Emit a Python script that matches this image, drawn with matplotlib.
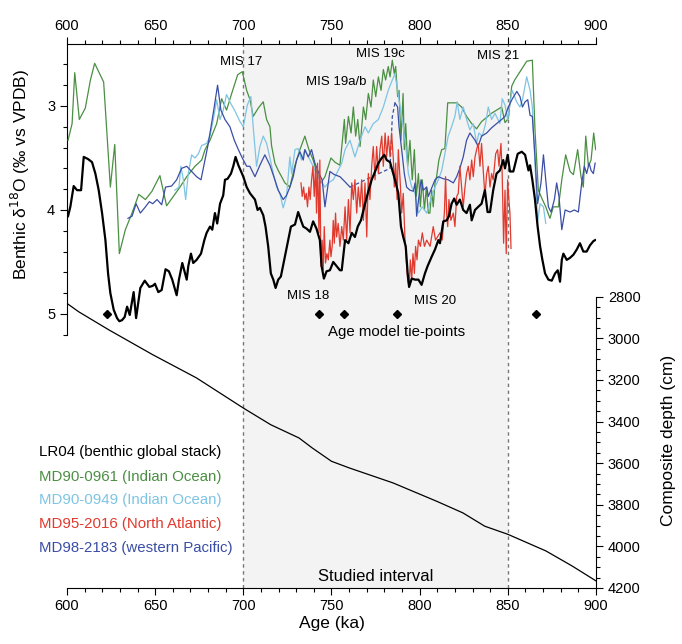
import numpy as np
import matplotlib.pyplot as plt
from matplotlib.ticker import FixedLocator

plt.rcParams['font.family'] = ['Liberation Sans', 'DejaVu Sans']

# LR04 benthic stack (age ka, d18O permil)
lr04_age = [600.6, 601.9, 603.8, 605.7, 608.0, 609.5, 611.9, 614.2, 616.1, 618.0, 619.9, 621.8, 623.3, 624.6,
            626.5, 628.4, 629.7, 631.2, 632.7, 634.1, 635.6, 637.8, 639.2, 641.6, 644.1, 646.7, 648.6, 649.9,
            651.8, 653.7, 655.9, 657.8, 659.7, 662.2, 663.5, 665.4, 666.5, 667.9, 668.8, 670.3, 671.6, 673.5,
            676.0, 677.9, 679.2, 681.1, 682.4, 683.9, 685.2, 686.8, 688.6, 689.6, 691.1, 693.0, 694.3, 695.6,
            697.2, 698.7, 700.0, 701.9, 703.8, 706.6, 708.1, 709.4, 711.3, 712.6, 714.1, 715.6, 717.0, 718.3,
            719.8, 721.3, 723.2, 725.1, 727.0, 729.3, 731.1, 732.7, 734.0, 735.9, 737.8, 739.6, 741.5, 743.4,
            744.4, 745.7, 747.2, 749.1, 751.0, 752.9, 754.8, 755.8, 757.7, 759.6, 761.5, 763.3, 764.9, 766.7,
            768.6, 770.9, 772.8, 774.7, 776.6, 778.5, 780.0, 781.3, 783.2, 784.5, 786.0, 787.9, 789.4, 790.7,
            792.1, 793.2, 794.0, 795.5, 797.4, 799.3, 801.1, 803.0, 804.5, 806.8, 808.7, 810.6, 811.5, 812.5,
            813.4, 815.3, 816.6, 818.1, 819.6, 821.0, 822.8, 824.7, 826.6, 828.5, 829.5, 831.4, 833.2, 835.1,
            837.0, 838.5, 839.9, 841.7, 843.6, 845.5, 847.4, 848.4, 849.9, 851.2, 853.1, 855.6, 857.9, 859.8,
            861.7, 862.6, 863.9, 865.4, 866.9, 868.3, 869.6, 871.1, 873.0, 874.9, 876.8, 878.3, 879.6, 880.6,
            881.5, 883.4, 885.3, 887.2, 889.1, 890.9, 892.8, 894.7, 896.6, 898.5, 899.5]
lr04_d18o = [4.06, 3.97, 3.77, 3.81, 3.81, 3.49, 3.51, 3.54, 3.65, 3.81, 4.03, 4.29, 4.61, 4.80,
             4.96, 5.04, 5.07, 5.06, 5.03, 4.93, 5.01, 4.79, 5.04, 4.75, 4.68, 4.74, 4.73, 4.71,
             4.79, 4.77, 4.57, 4.59, 4.67, 4.82, 4.67, 4.51, 4.58, 4.67, 4.54, 4.42, 4.51, 4.48,
             4.42, 4.29, 4.22, 4.16, 4.19, 4.03, 4.13, 3.94, 3.86, 3.71, 3.70, 3.65, 3.58, 3.49,
             3.57, 3.63, 3.68, 3.78, 3.84, 3.90, 4.00, 3.98, 4.05, 4.16, 4.35, 4.61, 4.67, 4.75,
             4.67, 4.64, 4.48, 4.32, 4.16, 4.14, 4.02, 4.10, 4.16, 4.18, 4.21, 4.11, 4.18, 4.29,
             4.54, 4.66, 4.59, 4.58, 4.50, 4.54, 4.58, 4.58, 4.29, 4.32, 4.22, 4.26, 4.16, 4.10,
             3.97, 3.82, 3.71, 3.63, 3.55, 3.50, 3.47, 3.52, 3.54, 3.62, 3.71, 3.84, 4.16, 4.26,
             4.35, 4.61, 4.74, 4.66, 4.67, 4.67, 4.72, 4.61, 4.54, 4.45, 4.38, 4.29, 4.32, 4.21,
             4.11, 4.10, 4.06, 3.94, 3.89, 3.95, 3.90, 4.00, 4.03, 3.95, 4.10, 4.00, 3.97, 3.94,
             3.81, 4.02, 4.02, 3.81, 3.65, 3.62, 3.52, 3.60, 3.47, 3.63, 3.63, 3.46, 3.44, 3.47,
             3.62, 3.57, 3.71, 3.90, 4.16, 4.35, 4.48, 4.61, 4.67, 4.68, 4.61, 4.58, 4.69, 4.48,
             4.42, 4.48, 4.46, 4.43, 4.38, 4.32, 4.40, 4.40, 4.34, 4.30, 4.29]

# MD90-0961 (Indian Ocean)
md0961_age = [600.6, 602.9, 604.4, 607.0, 610.4, 613.3, 615.7, 620.8, 624.6, 627.1, 629.7, 633.1, 636.9, 640.7,
              644.5, 648.2, 652.7, 656.5, 660.3, 664.1, 667.9, 672.6, 676.4, 678.3, 681.1, 684.9, 687.7, 690.5,
              693.4, 696.8, 699.4, 701.9, 703.8, 705.6, 708.5, 711.3, 713.2, 715.1, 716.0, 717.9, 719.8, 721.7,
              723.6, 726.4, 729.3, 732.1, 734.9, 737.2, 739.6, 741.5, 744.0, 746.3, 749.7, 751.9, 754.8, 756.2,
              757.3, 758.0, 759.6, 761.1, 762.4, 763.7, 764.9, 766.2, 768.1, 769.4, 770.9, 772.4, 773.7, 775.1,
              776.6, 778.1, 779.4, 780.7, 782.2, 783.2, 784.5, 785.6, 786.4, 787.5, 788.3, 789.4, 790.6, 791.3,
              792.1, 793.2, 794.5, 795.8, 797.0, 798.1, 799.3, 800.4, 801.5, 802.7, 803.8, 804.9, 805.8, 806.8,
              807.7, 808.7, 809.6, 810.9, 812.5, 814.3, 815.9, 818.1, 821.0, 823.8, 826.6, 829.5, 832.3, 835.1,
              838.0, 840.8, 843.6, 846.5, 848.4, 850.3, 852.2, 853.9, 856.9, 860.7, 863.9, 865.4, 867.3, 869.6,
              871.5, 873.9, 875.8, 878.7, 880.6, 882.8, 885.3, 887.2, 889.6, 891.5, 892.8, 894.2, 895.7, 897.2,
              898.7, 899.8]
md0961_d18o = [3.33, 3.17, 2.68, 3.13, 3.02, 2.75, 2.59, 2.77, 3.78, 3.37, 4.42, 4.19, 4.03, 3.85,
               3.90, 3.82, 3.67, 3.96, 3.87, 3.78, 3.68, 3.58, 3.52, 3.42, 3.33, 3.17, 2.93, 3.04,
               2.88, 2.70, 2.67, 2.85, 2.94, 3.10, 3.02, 2.96, 3.13, 3.20, 3.38, 3.55, 3.62, 3.68,
               3.74, 3.78, 3.57, 3.42, 3.29, 3.42, 3.52, 3.63, 3.74, 3.68, 3.50, 3.54, 3.57, 3.33,
               3.13, 3.36, 3.10, 3.26, 3.01, 3.29, 3.13, 3.39, 3.01, 3.13, 2.88, 3.01, 2.75, 2.91,
               2.72, 2.85, 2.65, 2.75, 2.62, 2.72, 2.56, 2.69, 2.62, 2.91, 2.85, 3.33, 2.88, 3.42,
               3.17, 3.58, 3.33, 3.71, 3.42, 3.87, 3.65, 3.97, 3.71, 4.00, 3.78, 4.03, 4.03, 3.81,
               3.97, 3.74, 3.68, 3.52, 3.42, 3.41, 2.97, 2.97, 2.97, 3.01, 3.10, 3.17, 3.22, 3.15,
               3.11, 3.07, 3.04, 3.01, 3.16, 3.12, 2.81, 2.75, 2.67, 2.57, 2.56, 3.23, 3.81, 3.90,
               3.97, 4.08, 3.97, 3.97, 3.71, 3.47, 3.63, 3.66, 3.42, 3.68, 3.78, 3.29, 3.58, 3.52,
               3.26, 3.42]

# MD90-0949 (Indian Ocean)
md0949_age = [661.2, 663.5, 664.6, 666.0, 667.3, 668.8, 670.7, 672.6, 674.5, 676.4, 679.2, 681.1, 683.0, 684.9,
              686.8, 688.6, 690.5, 692.4, 695.3, 698.1, 700.0, 702.3, 704.3, 705.6, 707.5, 709.4, 711.3, 713.2,
              715.1, 717.0, 718.9, 720.7, 722.6, 724.5, 726.4, 727.4, 729.3, 731.1, 733.0, 734.9, 736.4, 737.8,
              739.6, 741.5, 743.4, 746.3, 748.2, 751.0, 752.9, 755.8, 757.7, 760.5, 763.3, 766.2, 769.0, 770.9,
              773.7, 776.6, 779.4, 782.2, 784.5, 786.0, 787.5, 788.9, 790.7, 792.1, 793.6, 795.5, 797.4, 799.3,
              801.5, 804.0, 806.8, 808.7, 810.6, 812.5, 814.3, 816.2, 818.1, 820.0, 821.3, 822.8, 824.7, 826.6,
              828.5, 830.4, 832.3, 833.6, 835.5, 837.4, 838.9, 840.8, 842.7, 845.5, 846.8, 848.4, 849.9, 851.2,
              852.5, 855.0, 856.9, 858.3, 860.7, 862.6, 863.9, 865.4, 866.9, 868.3, 870.2, 871.5]
md0949_d18o = [3.81, 3.78, 3.58, 3.71, 3.90, 3.65, 3.47, 3.50, 3.46, 3.38, 3.36, 3.29, 3.13, 2.94,
               3.13, 3.04, 2.89, 2.96, 3.05, 3.15, 3.20, 2.99, 2.91, 3.20, 3.58, 3.39, 3.29, 3.36,
               3.50, 3.65, 3.78, 3.84, 3.98, 3.87, 3.49, 3.65, 3.42, 3.41, 3.52, 3.42, 3.47, 3.52,
               3.58, 3.65, 3.71, 3.78, 3.74, 3.71, 3.65, 3.55, 3.42, 3.33, 3.49, 3.33, 3.20, 3.26,
               3.17, 3.13, 3.01, 2.85, 2.75, 2.69, 2.85, 3.01, 3.20, 3.39, 3.65, 3.78, 3.84, 4.03,
               3.97, 4.03, 3.87, 3.78, 3.71, 3.62, 3.46, 3.29, 3.20, 3.10, 2.96, 3.13, 3.01, 3.13,
               3.23, 3.17, 3.36, 3.26, 3.29, 3.17, 3.01, 3.13, 3.07, 3.17, 2.93, 2.99, 3.13, 2.97,
               2.85, 2.96, 3.01, 2.94, 2.72, 2.85, 3.01, 3.55, 4.11, 3.94, 3.97, 4.13]

# MD95-2016 (North Atlantic)
md2016_age = [732.7, 733.4, 734.2, 734.9, 735.7, 736.4, 737.2, 737.9, 738.7, 739.5, 740.2, 741.0, 741.5, 742.1,
              742.9, 743.4, 744.0, 744.7, 745.3, 745.9, 746.6, 747.4, 748.2, 749.1, 749.7, 750.4, 751.0, 751.6,
              752.3, 752.9, 753.8, 754.8, 755.8, 756.7, 757.7, 758.6, 759.6, 760.5, 761.5, 762.4, 763.3, 764.3,
              765.2, 766.2, 767.1, 768.1, 769.0, 770.0, 770.9, 771.8, 772.8, 773.7, 774.7, 775.6, 776.6, 777.5,
              778.5, 779.4, 780.4, 781.3, 782.2, 783.2, 784.1, 785.1, 785.6, 786.4, 787.2, 787.9, 788.9, 789.8,
              790.7, 791.7, 792.4, 793.2, 794.0, 794.7, 795.5, 796.2, 797.0, 797.7, 798.5, 799.3, 800.4, 801.5,
              802.7, 804.0, 805.9, 807.7, 809.0, 811.5, 812.8, 814.0, 814.7, 815.3, 815.9, 816.6, 817.7, 819.1,
              820.0, 821.0, 821.9, 822.8, 823.8, 824.7, 825.7, 826.6, 827.6, 828.5, 829.5, 830.4, 831.4, 832.3,
              833.2, 834.2, 835.1, 836.1, 837.0, 838.0, 838.9, 839.9, 840.8, 841.7, 843.1, 844.2, 845.0, 846.1,
              846.8, 847.6, 848.4, 849.1, 849.9, 850.6, 851.2, 851.8]
md2016_d18o = [3.74, 3.87, 3.78, 3.90, 3.84, 3.97, 3.78, 3.90, 3.71, 3.58, 3.87, 3.58, 4.03, 3.55,
               4.22, 3.52, 4.54, 4.29, 4.58, 4.16, 4.51, 4.42, 4.48, 4.29, 4.45, 4.35, 4.10, 4.32,
               4.03, 4.26, 4.13, 4.35, 4.16, 4.29, 3.97, 4.29, 3.90, 4.22, 3.74, 3.90, 3.71, 4.03,
               3.78, 3.97, 3.71, 4.10, 3.74, 4.26, 3.65, 3.90, 3.58, 3.39, 3.71, 3.39, 3.65, 3.42,
               3.29, 3.58, 3.26, 3.49, 3.29, 3.49, 3.26, 3.52, 3.78, 3.55, 3.90, 3.42, 3.71, 4.03,
               3.84, 4.29, 4.48, 4.67, 4.74, 4.48, 4.67, 4.42, 4.61, 4.35, 4.48, 4.29, 4.35, 4.22,
               4.35, 4.29, 4.35, 4.16, 4.29, 4.22, 4.29, 4.03, 3.68, 4.03, 4.16, 3.90, 4.10, 4.03,
               4.16, 3.87, 3.84, 3.58, 3.78, 3.97, 3.78, 3.65, 3.58, 3.71, 3.52, 3.68, 3.49, 3.42,
               3.36, 3.58, 3.36, 3.62, 3.87, 3.65, 3.58, 3.78, 3.65, 3.71, 3.46, 3.42, 3.58, 3.36,
               3.65, 4.32, 3.81, 4.42, 3.71, 3.90, 4.03, 4.37]

# MD98-2183 (western Pacific); gap between gap_start and gap_end is bridged with a dashed line
md2183_age = [634.6, 636.9, 639.2, 641.6, 644.5, 646.7, 648.6, 651.1, 653.7, 655.9, 659.3, 662.2, 665.0, 667.9,
              670.7, 673.5, 676.0, 677.9, 679.8, 681.7, 683.5, 685.4, 687.3, 689.6, 692.4, 694.9, 697.2, 699.4,
              701.9, 703.7, 706.6, 709.4, 712.2, 715.1, 717.9, 719.8, 722.6, 724.5, 726.4, 728.3, 730.2, 732.1,
              734.0, 734.9, 736.8, 738.7, 740.6, 742.9, 744.7, 746.3, 749.1, 751.6, 754.8, 757.7, 760.5, 783.2,
              784.5, 786.0, 787.5, 788.3, 789.8, 791.3, 792.6, 794.5, 796.4, 797.4, 798.3, 799.6, 800.8, 802.1,
              804.0, 804.9, 806.8, 808.7, 810.6, 813.4, 816.2, 819.1, 821.0, 822.8, 824.7, 826.6, 828.5, 831.4,
              833.2, 835.1, 838.0, 840.8, 843.6, 846.5, 848.4, 850.3, 852.6, 855.1, 856.9, 858.3, 859.8, 861.3,
              862.6, 863.9, 865.4, 866.9, 868.8, 870.2, 871.5, 873.0, 874.5, 876.4, 877.7, 879.0, 880.6, 882.5,
              885.3, 887.7, 890.0, 891.9, 893.4, 894.7, 896.1, 897.2, 898.5, 899.5]
md2183_d18o = [4.08, 4.06, 3.94, 4.03, 3.97, 3.92, 3.94, 3.90, 3.95, 3.78, 3.77, 3.71, 3.60, 3.58,
               3.63, 3.68, 3.71, 3.55, 3.39, 3.20, 3.01, 2.80, 3.04, 3.13, 3.20, 3.33, 3.42, 3.50,
               3.58, 3.58, 3.68, 3.57, 3.47, 3.57, 3.71, 3.81, 3.90, 3.86, 3.78, 3.68, 3.52, 3.44,
               3.52, 3.42, 3.49, 3.42, 3.55, 3.65, 3.71, 3.97, 3.63, 3.66, 3.68, 3.73, 3.78, 3.60,
               3.10, 2.97, 3.01, 3.20, 3.42, 3.65, 3.78, 3.81, 3.82, 3.74, 4.06, 3.87, 3.71, 3.81,
               3.78, 3.87, 3.79, 3.71, 3.68, 3.70, 3.71, 3.74, 3.68, 3.60, 3.49, 3.33, 3.26, 3.33,
               3.39, 3.29, 3.26, 3.21, 3.17, 3.13, 3.10, 3.01, 2.93, 2.86, 2.91, 3.01, 2.96, 2.94,
               3.09, 3.10, 3.49, 3.94, 3.74, 3.47, 3.71, 3.97, 4.02, 3.90, 3.74, 3.87, 4.19, 4.00,
               4.02, 4.00, 4.02, 3.74, 3.58, 3.65, 3.55, 3.62, 3.65, 3.55]
gap_start = 760.5
gap_end = 786.0

# age model: composite depth (cm) vs age
depth_age = [600.0, 606.6, 623.9, 648.7, 673.4, 700.0, 715.5, 731.6, 739.1, 750.0, 760.1, 784.9,
             809.6, 824.5, 836.9, 850.0, 871.6, 886.4, 900.0]
depth_cm = [2832, 2872, 2960, 3079, 3190, 3335, 3415, 3479, 3527, 3591, 3623, 3695,
            3783, 3839, 3903, 3942, 4022, 4094, 4166]

tie_ages = [622.7, 743.0, 757.0, 787.3, 866.0]
tie_level = 5.0

mis_labels = ['MIS 17', 'MIS 19a/b', 'MIS 19c', 'MIS 21', 'MIS 18', 'MIS 20']
mis_x = [698.6, 752.6, 777.5, 844.4, 736.7, 808.7]
mis_y = [2.58, 2.77, 2.50, 2.52, 4.83, 4.88]

legend_labels = ['LR04 (benthic global stack)', 'MD90-0961 (Indian Ocean)', 'MD90-0949 (Indian Ocean)',
                 'MD95-2016 (North Atlantic)', 'MD98-2183 (western Pacific)']

c_lr04 = 'black'
c_green = '#4a8f42'
c_lblue = '#7ec4e4'
c_red = '#e03a2e'
c_blue = '#3a4ea6'
legend_colors = [c_lr04, c_green, c_lblue, c_red, c_blue]

fig = plt.figure(figsize=(6.82, 6.44), dpi=100)
ax = fig.add_axes([0.0982, 0.0870, 0.7757, 0.8447])
ax.set_xlim(600, 900)
ax.set_ylim(7.635, 2.404)

# studied interval
ax.axvspan(700, 850, color='#f3f3f3', zorder=0, lw=0)
for xv in [700, 850]:
    ax.axvline(xv, color='#777777', lw=1.0, ls=(0, (2.5, 2.5)), zorder=1)

ax.plot(md0961_age, md0961_d18o, color=c_green, lw=0.9, zorder=3)
ax.plot(md0949_age, md0949_d18o, color=c_lblue, lw=0.9, zorder=3)
b_age = np.array(md2183_age)
b_val = np.array(md2183_d18o)
pre = b_age <= gap_start
post = b_age >= gap_end
mid = (b_age >= gap_start) & (b_age <= gap_end)
ax.plot(b_age[pre], b_val[pre], color=c_blue, lw=0.9, zorder=3)
ax.plot(b_age[post], b_val[post], color=c_blue, lw=0.9, zorder=3)
ax.plot(b_age[mid], b_val[mid], color=c_blue, lw=0.9, ls=(0, (3, 2)), zorder=3)
ax.plot(md2016_age, md2016_d18o, color=c_red, lw=0.9, zorder=3)
ax.plot(lr04_age, lr04_d18o, color=c_lr04, lw=1.6, zorder=4)

ax.plot(tie_ages, [tie_level] * len(tie_ages), 'D', color='black', ms=4.5, zorder=5)

for lab, x, y in zip(mis_labels, mis_x, mis_y):
    ax.text(x, y, lab, ha='center', va='center', fontsize=9.5, zorder=6)
ax.text(787, 5.17, 'Age model tie-points', ha='center', va='center', fontsize=10.8)
ax.text(775, 7.52, 'Studied interval', ha='center', va='center', fontsize=12)

# axes styling
ax.spines['right'].set_visible(False)
ax.spines['left'].set_bounds(2.404, 5.2)
ax.yaxis.set_major_locator(FixedLocator([3, 4, 5]))
ax.yaxis.set_minor_locator(FixedLocator(np.arange(2.6, 5.21, 0.2)))
ax.xaxis.set_major_locator(FixedLocator(np.arange(600, 901, 50)))
ax.xaxis.set_minor_locator(FixedLocator(np.arange(600, 901, 10)))
ax.xaxis.set_ticks_position('both')
ax.tick_params(axis='x', which='both', direction='out', labeltop=True, labelsize=10.5, pad=3)
ax.tick_params(axis='y', which='both', direction='out', labelsize=10.5)
ax.tick_params(which='major', length=5, width=0.8)
ax.tick_params(which='minor', length=3, width=0.8)
ax.set_xlabel('Age (ka)', fontsize=12.5, labelpad=2)
ax.set_ylabel('Benthic δ$^{18}$O (‰ vs VPDB)', fontsize=12.5)
ax.yaxis.set_label_coords(-0.066, 0.76)

# composite depth axis
ax2 = ax.twinx()
ax2.set_ylim(4200, 1585)
ax2.plot(depth_age, depth_cm, color='black', lw=0.9, zorder=3)
for s in ['top', 'bottom', 'left']:
    ax2.spines[s].set_visible(False)
ax2.spines['right'].set_bounds(2800, 4200)
ax2.yaxis.set_major_locator(FixedLocator(np.arange(2800, 4201, 200)))
ax2.yaxis.set_minor_locator(FixedLocator(np.arange(2800, 4201, 50)))
ax2.tick_params(axis='y', which='both', direction='out', labelsize=10.5)
ax2.tick_params(which='major', length=5, width=0.8)
ax2.tick_params(which='minor', length=3, width=0.8)
ax2.set_ylabel('Composite depth (cm)', fontsize=12.5)
ax2.yaxis.set_label_coords(1.123, 0.272)

# series labels
label_y = [451.7, 476.7, 500.0, 524.0, 547.7]
for lab, col, py in zip(legend_labels, legend_colors, label_y):
    fig.text(39 / 682, 1 - py / 644, lab, color=col, fontsize=10.8, ha='left', va='center')

fig.savefig('out.png', dpi=100)
